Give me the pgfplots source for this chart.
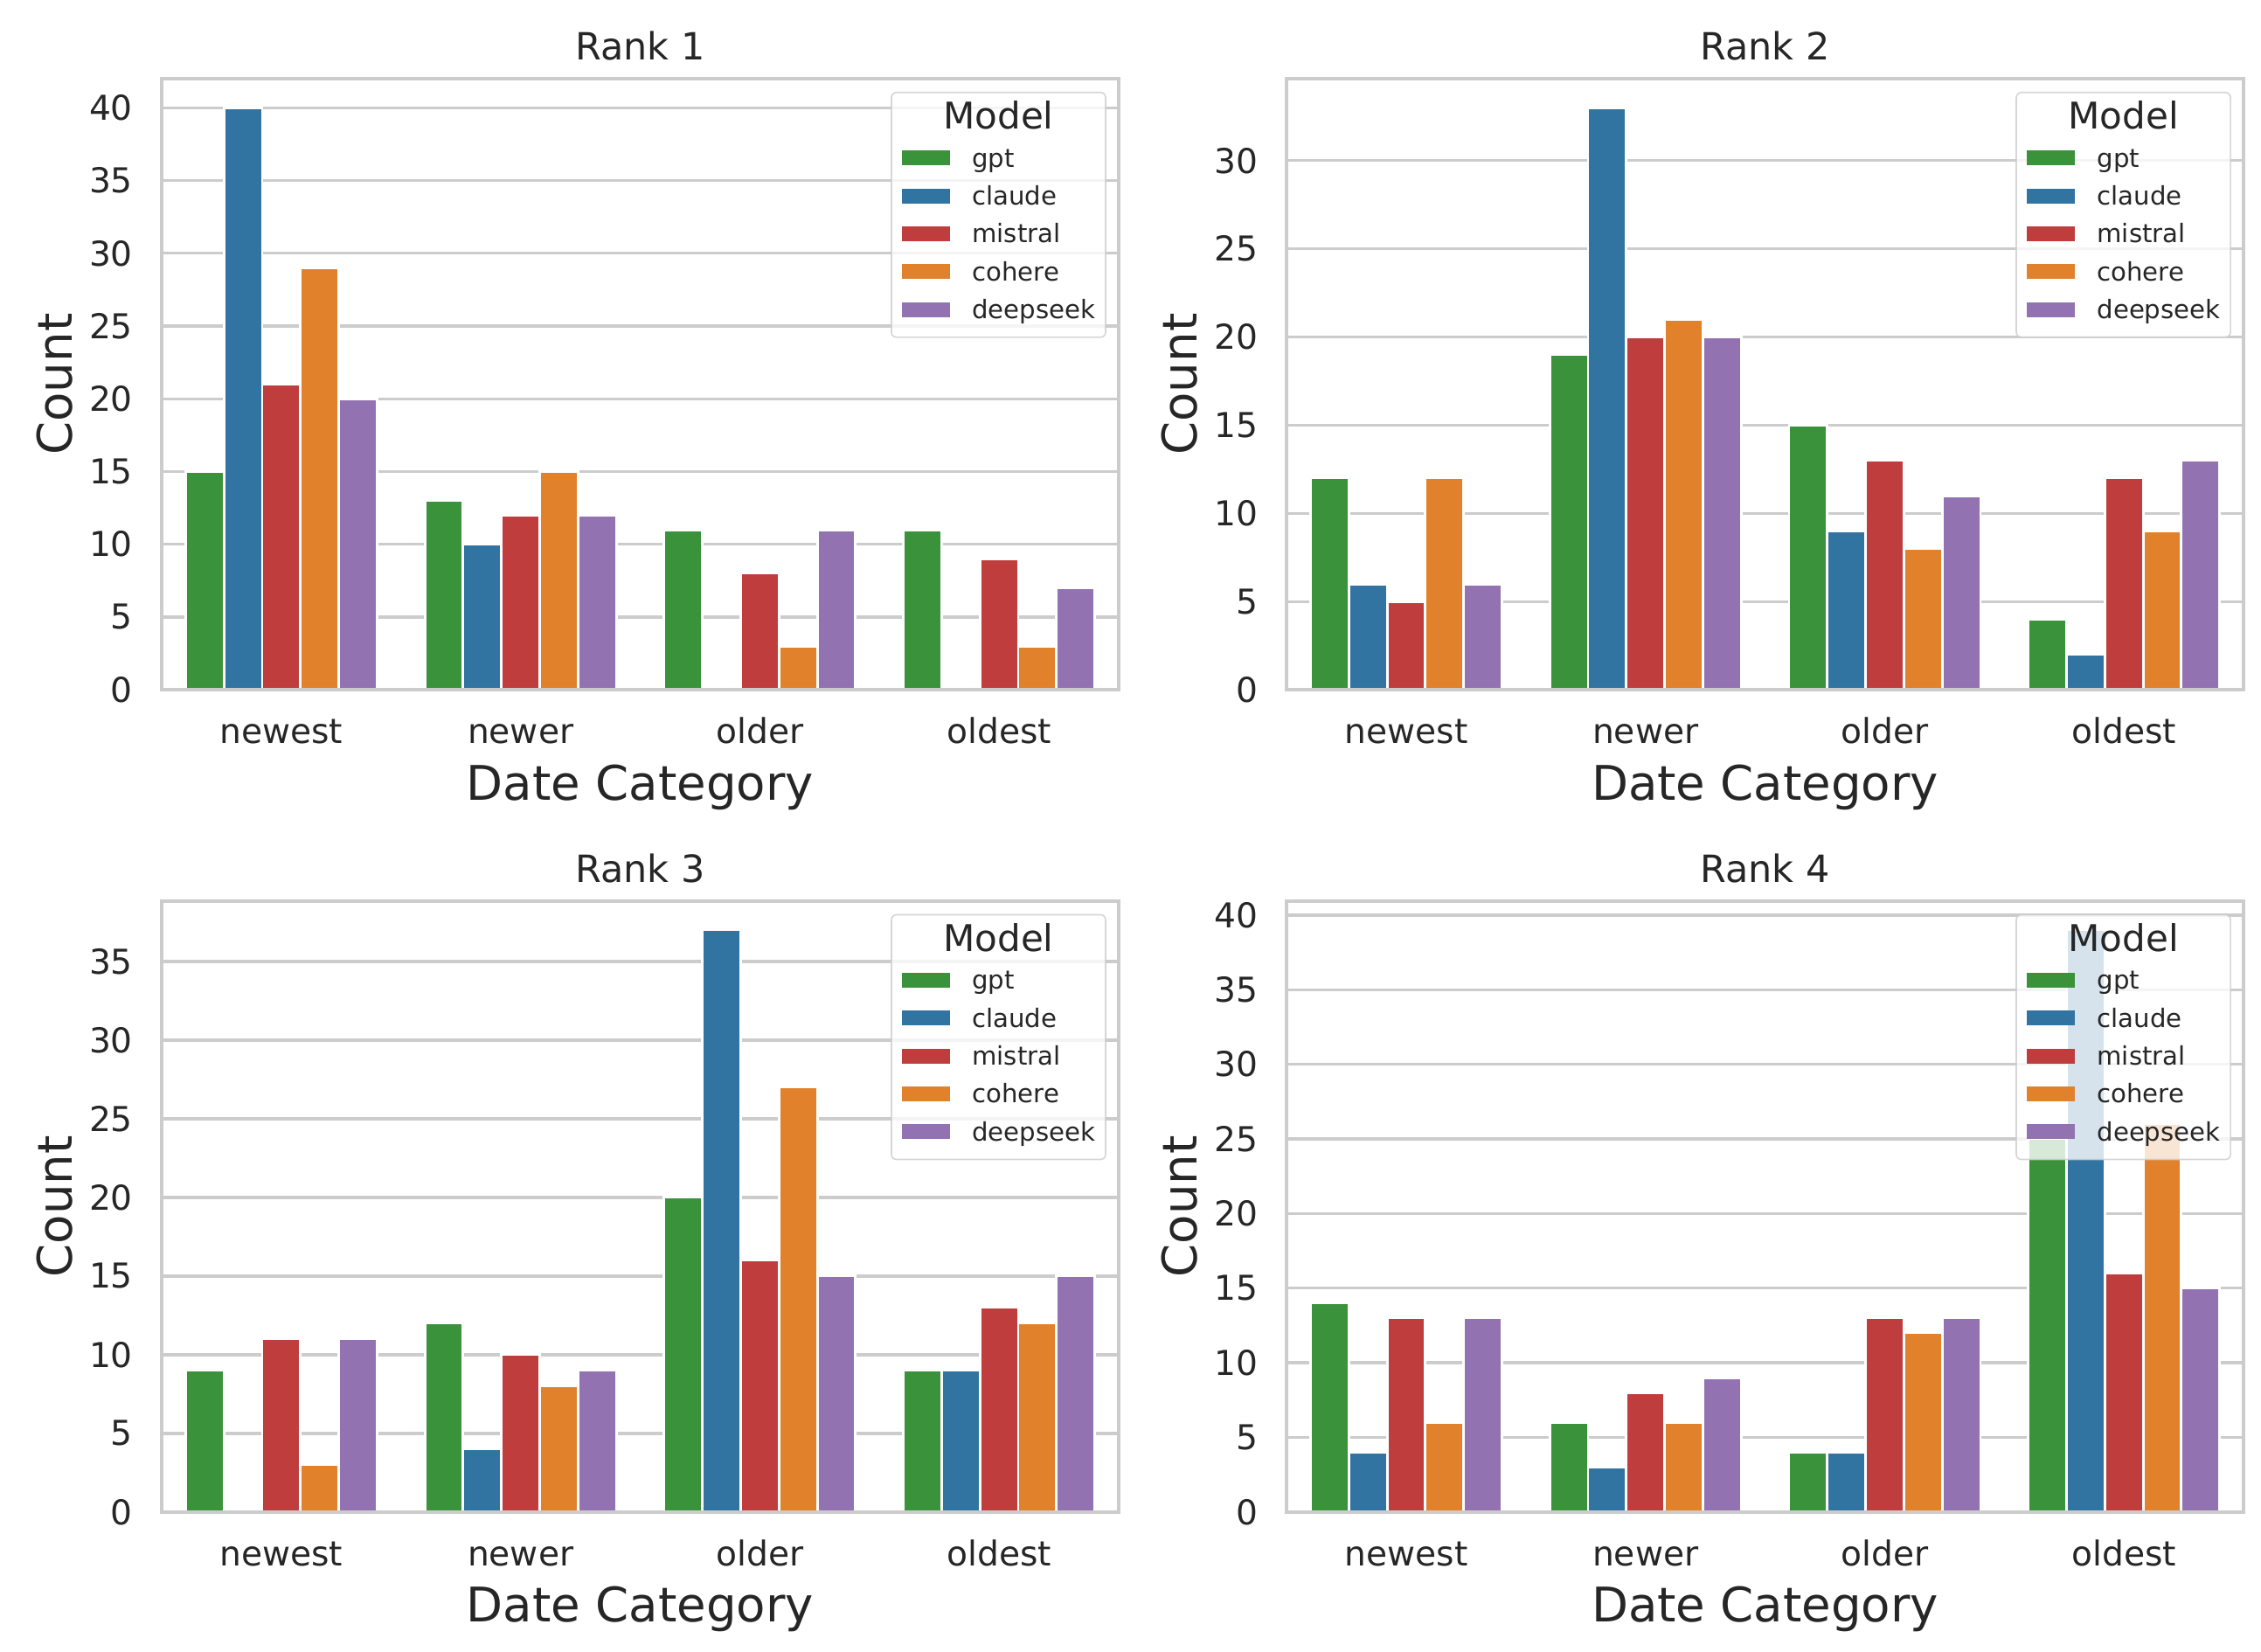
\documentclass[border=0pt]{standalone}
\usepackage{fontspec}
\setmainfont{DejaVu Sans}
\usepackage{pgfplots}
\usepackage{pgfplotstable}
\pgfplotsset{compat=1.18}
\definecolor{cgpt}{HTML}{3A923A}
\definecolor{cclaude}{HTML}{3274A1}
\definecolor{cmistral}{HTML}{C03D3E}
\definecolor{ccohere}{HTML}{E1812C}
\definecolor{cdeep}{HTML}{9372B2}
\definecolor{tgray}{HTML}{262626}
\definecolor{lgray}{HTML}{CCCCCC}

\pgfplotstableread{
x gpt claude mistral cohere deepseek
0 15 40 21 29 20
1 13 10 12 15 12
2 11 0 8 3 11
3 11 0 9 3 7
}\rankone
\pgfplotstableread{
x gpt claude mistral cohere deepseek
0 12 6 5 12 6
1 19 33 20 21 20
2 15 9 13 8 11
3 4 2 12 9 13
}\ranktwo
\pgfplotstableread{
x gpt claude mistral cohere deepseek
0 9 0 11 3 11
1 12 4 10 8 9
2 20 37 16 27 15
3 9 9 13 12 15
}\rankthree
\pgfplotstableread{
x gpt claude mistral cohere deepseek
0 14 4 13 6 13
1 6 3 8 6 9
2 4 4 13 12 13
3 25 39 16 26 15
}\rankfour

\pgfplotsset{
  layers/barsbelow/.define layer set={
    axis background,axis grid,main,axis ticks,axis lines,axis tick labels,axis descriptions,axis foreground
  }{
    grid style={/pgfplots/on layer=axis grid},
    tick style={/pgfplots/on layer=axis ticks},
    axis line style={/pgfplots/on layer=axis lines},
    label style={/pgfplots/on layer=axis descriptions},
    legend style={/pgfplots/on layer=axis descriptions},
    title style={/pgfplots/on layer=axis descriptions},
    colorbar style={/pgfplots/on layer=axis descriptions},
    ticklabel style={/pgfplots/on layer=axis tick labels},
    axis background@ style={/pgfplots/on layer=axis background},
    3d box foreground style={/pgfplots/on layer=axis foreground},
  },
  rankaxis/.style={
    set layers=barsbelow,
    scale only axis, width=262.8pt, height=167.8pt,
    anchor=south west,
    xmin=-0.5, xmax=3.5, ymin=0,
    xtick={0,1,2,3}, xticklabels={newest,newer,older,oldest},
    ymajorgrids,
    grid style={draw=lgray, line width=0.8pt},
    axis line style={draw=lgray, line width=1pt},
    tick style={draw=none}, major tick length=0pt,
    ybar, bar width=0.16,
    /pgf/number format/assume math mode=true,
    tick label style={font=\fontsize{9.4}{11}\selectfont, text=tgray},
    yticklabel style={anchor=east, inner sep=0pt, xshift=-7.75pt},
    xticklabel style={anchor=base, inner sep=0pt, yshift=-14.8pt},
    xlabel={Date Category}, ylabel={Count},
    label style={font=\fontsize{13.1}{15}\selectfont, text=tgray, inner sep=0pt},
    xlabel style={at={([yshift=-30.2pt]axis description cs:0.5,0)}, anchor=base},
    ylabel style={at={([xshift=-24.6pt]axis description cs:0,0.5)}, anchor=base},
    every axis title shift=0pt,
    title style={at={([yshift=5.2pt]axis description cs:0.5,1)}, anchor=base,
      font=\fontsize{10.3}{12}\selectfont, text=tgray, inner sep=0pt},
    legend cell align=left,
    legend style={at={(rel axis cs:1,1)}, anchor=north east, xshift=-3.4pt, yshift=-3.6pt,
      draw=lgray, rounded corners=1.4pt, fill=white, fill opacity=0.8, draw opacity=0.8,
      text opacity=1, inner xsep=2.8pt, inner ysep=2.4pt, column sep=6.2pt, row sep=0pt,
      font=\fontsize{7}{8}\selectfont, text=tgray,
      nodes={inner sep=0pt, text height=7.7pt, text depth=2.7pt}},
  },
  barstyle/.style={fill=#1, draw=white, line width=0.7pt,
    legend image code/.code={\path[fill=#1, draw=none, fill opacity=1, sharp corners] (0pt,-2.05pt) rectangle (13.2pt,2.05pt);}},
}

\newcommand{\rankplots}[1]{%
  \addlegendimage{empty legend}
  \addlegendentry{\hspace*{7.2pt}\makebox[0pt][c]{\fontsize{10.1}{11}\selectfont Model}}
  \addplot[barstyle=cgpt, bar shift=-0.32] table[x=x,y=gpt]{#1};
  \addlegendentry{gpt}
  \addplot[barstyle=cclaude, bar shift=-0.16] table[x=x,y=claude]{#1};
  \addlegendentry{claude}
  \addplot[barstyle=cmistral, bar shift=0] table[x=x,y=mistral]{#1};
  \addlegendentry{mistral}
  \addplot[barstyle=ccohere, bar shift=0.16] table[x=x,y=cohere]{#1};
  \addlegendentry{cohere}
  \addplot[barstyle=cdeep, bar shift=0.32] table[x=x,y=deepseek]{#1};
  \addlegendentry{deepseek}
}

\begin{document}
\begin{tikzpicture}
\path (0,0) rectangle (620.88pt,453.36pt);
\begin{axis}[rankaxis, at={(44.4pt,263.96pt)}, title={Rank 1}, ymax=42, ytick={0,5,...,40}]
\rankplots{\rankone}
\end{axis}
\begin{axis}[rankaxis, at={(353.3pt,263.96pt)}, title={Rank 2}, ymax=34.65, ytick={0,5,...,30}]
\rankplots{\ranktwo}
\end{axis}
\begin{axis}[rankaxis, at={(44.4pt,38.2pt)}, title={Rank 3}, ymax=38.85, ytick={0,5,...,35}]
\rankplots{\rankthree}
\end{axis}
\begin{axis}[rankaxis, at={(353.3pt,38.2pt)}, title={Rank 4}, ymax=40.95, ytick={0,5,...,40}]
\rankplots{\rankfour}
\end{axis}
\end{tikzpicture}
\end{document}
